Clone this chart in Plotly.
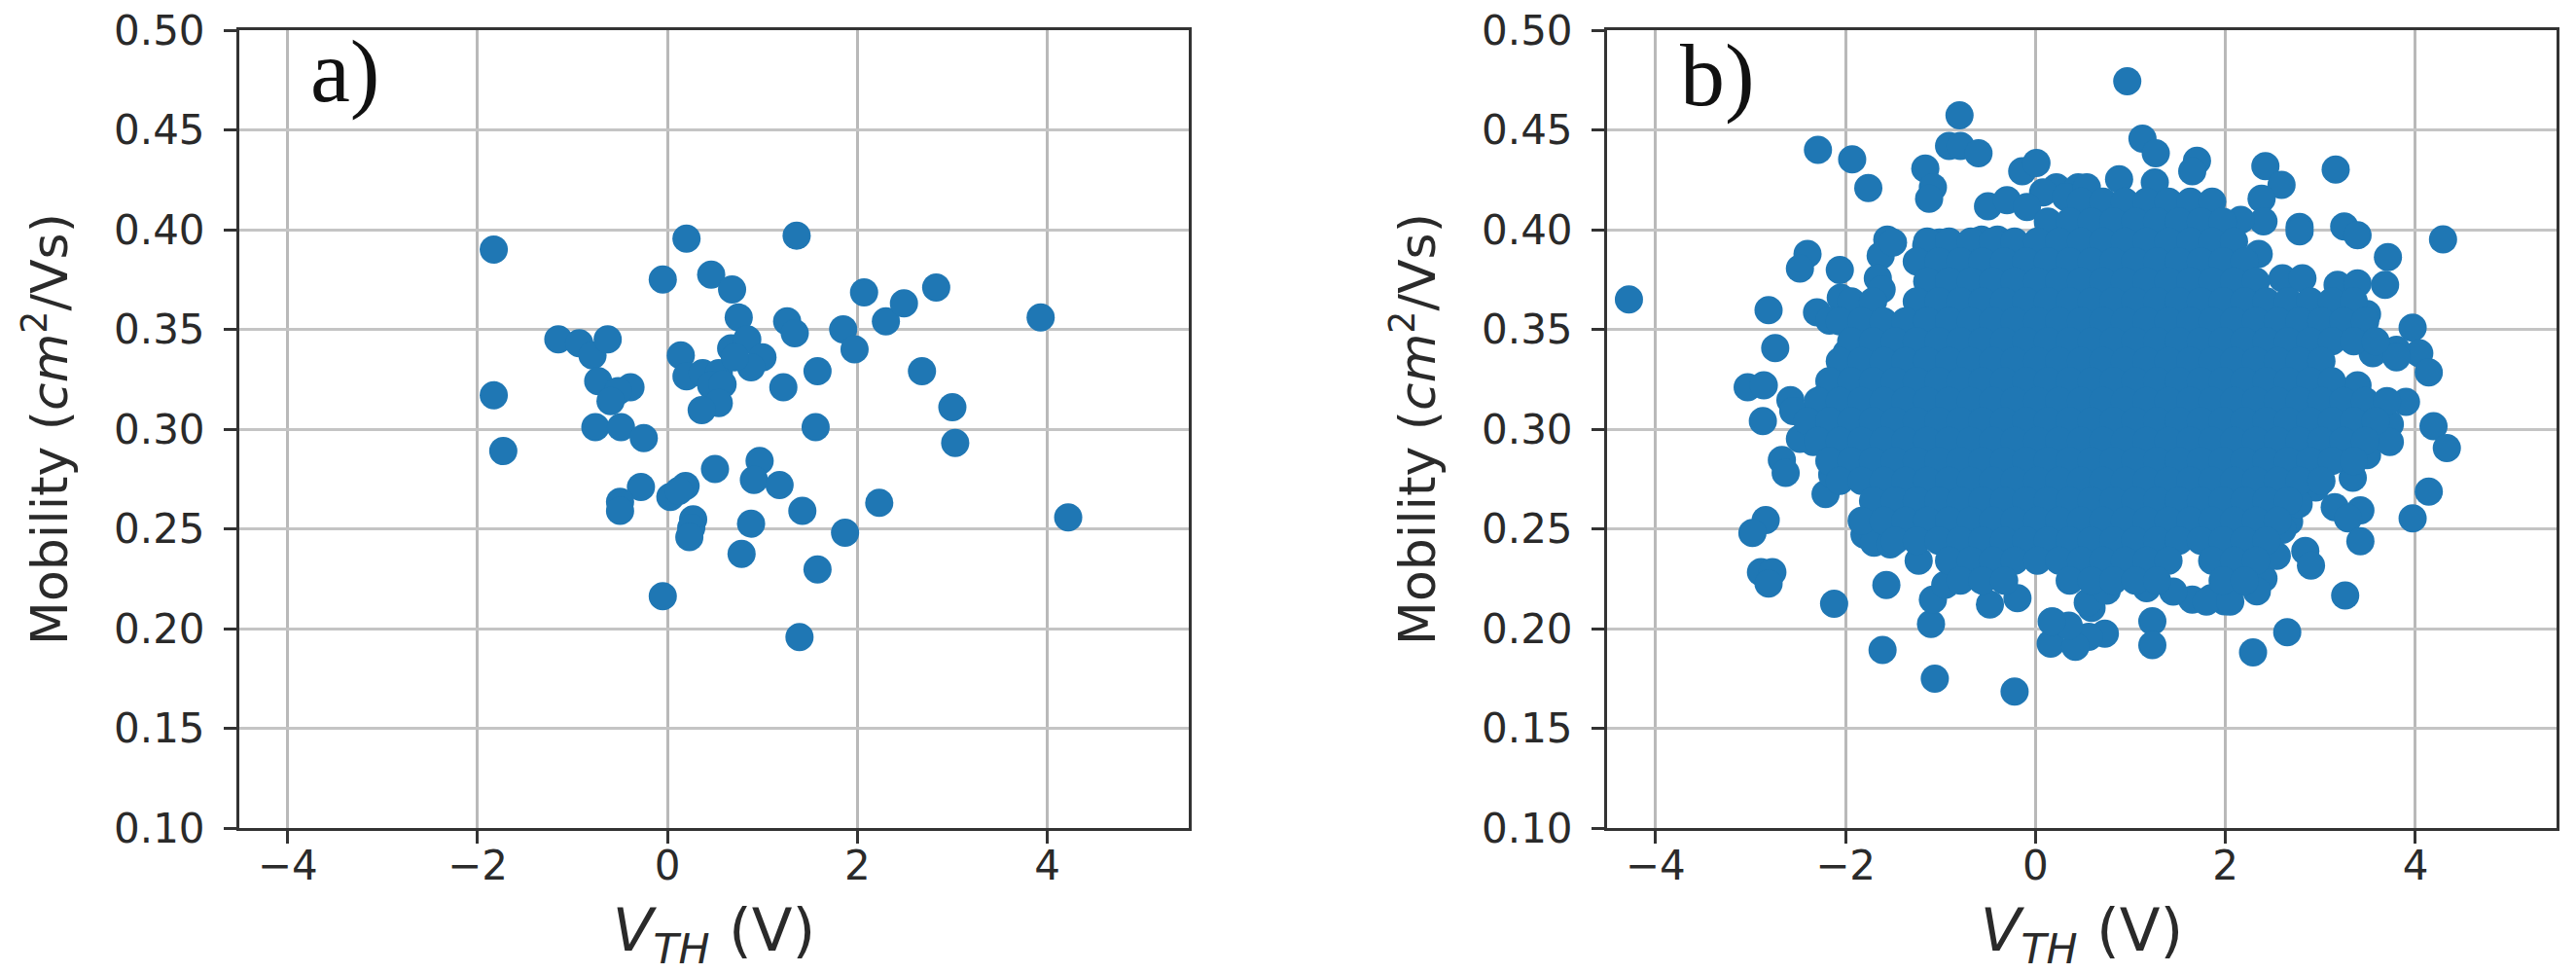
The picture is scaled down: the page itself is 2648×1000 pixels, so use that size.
import plotly.graph_objects as go

# ---------- panel a) ----------
a_vth = [-1.83, -1.83, -1.73, -1.15, -0.93, -0.79, -0.63, -0.73, -0.39, -0.52, -0.60, -0.76, -0.49, -0.25,
         -0.28, -0.50, -0.50, -0.05, 0.20, 0.46, 0.68, 1.36, 0.75, 0.14, 0.20, 0.37, 0.54, 0.46, 0.58, 0.54,
         0.36, 0.67, 0.84, 1.00, 0.88, 0.71, 1.26, 1.34, 1.22, 1.58, 1.85, 1.97, 2.07, 2.30, 2.49, 2.83,
         2.68, 3.00, 3.03, 3.93, 4.22, 1.56, 0.50, 0.97, 0.91, 1.18, 0.03, 0.19, 0.27, 0.25, 0.23, 0.88,
         1.42, 1.87, 2.23, 0.78, 1.58, -0.05, 1.39, 0.12]
a_mobility = [0.390, 0.317, 0.289, 0.345, 0.343, 0.337, 0.345, 0.324, 0.321, 0.319, 0.314, 0.301, 0.301, 0.2955,
              0.271, 0.2635, 0.259, 0.375, 0.3955, 0.3775, 0.370, 0.397, 0.356, 0.337, 0.3265, 0.328, 0.328, 0.322, 0.3225, 0.313,
              0.3095, 0.3405, 0.345, 0.336, 0.331, 0.336, 0.354, 0.348, 0.321, 0.329, 0.350, 0.340, 0.3685, 0.354, 0.363, 0.371,
              0.329, 0.311, 0.293, 0.356, 0.2557, 0.301, 0.280, 0.284, 0.2745, 0.272, 0.266, 0.2715, 0.2548, 0.2505, 0.2458, 0.2526,
              0.259, 0.248, 0.263, 0.2374, 0.2296, 0.2162, 0.1957, 0.269]

# ---------- panel b): outlying points read one by one ----------
b_edge_vth = [-2.29, -1.93, -1.76, -0.80, -0.91, -0.79, -0.60, -1.16, -1.08, -1.12, -0.14, 0.01, -0.50, -0.30, 0.22, 0.45,
              0.08, 0.32, -0.09, -2.40, -2.48, -2.06, -2.81, -2.74, -3.03, -2.86, -2.87, -4.28, -2.58, -2.55, -1.56, -1.63,
              -1.66, -2.05, -2.30, -2.17, -1.99, -2.24, -2.34, -1.15, -1.01, -0.57, -0.40, -1.50, -1.62,
              0.966, 1.126, 1.266, 1.70, 1.65, 0.88, 1.256, 0.54, 2.42, 2.59, 2.38, 2.40, 2.16, 2.78, 2.78, 3.16, 3.25, 3.39,
              4.29, 3.71, 3.68, 2.35, 2.60, 2.81, 3.18, 3.39, 3.97, 4.04, 4.14, 3.80, 3.90, 3.39, 4.19, 0.66, 3.49, 3.73, 3.22,
              3.55, 3.80,
              4.33, 4.14, 3.97, 3.15, 3.42, 3.29, 3.42, 2.84, 2.90, 3.26, 2.65, 2.29, 1.23, 1.23, 0.73, 0.56, 3.34, 2.67, 2.60,
              2.40, 2.33, 1.99, 1.65, 1.17, 0.59, 2.54, 3.49, 3.73, 3.29, 2.95, 2.77, 2.19, 1.85, 1.45, 1.80, 2.05,
              -2.67, -2.63, -2.84, -2.98, -2.89, -2.77, -2.81, -2.12, -1.57, -1.61, -1.06, -0.22, -1.10, -1.08, -1.23, -1.80,
              -1.70, -1.53, -2.21, -2.34, -2.48, -2.14, -0.95, -0.48, -0.19, 0.16, 0.42, 0.18, 0.35, 0.17, -0.77, 0.55, 0.75]
b_edge_mobility = [0.440, 0.4353, 0.4209, 0.4573, 0.442, 0.442, 0.4383, 0.4306, 0.4212, 0.4155, 0.4293, 0.4334, 0.4117, 0.4147, 0.4212, 0.4212,
                   0.4187, 0.4163, 0.4114, 0.3878, 0.3805, 0.3797, 0.3596, 0.3406, 0.321, 0.322, 0.304, 0.365, 0.3145, 0.309, 0.395, 0.387,
                   0.3756, 0.3658, 0.3585, 0.3544, 0.338, 0.3153, 0.3056, 0.3919, 0.3935, 0.395, 0.395, 0.3935, 0.370,
                   0.4744, 0.4456, 0.4383, 0.4345, 0.4293, 0.4253, 0.4236, 0.4212, 0.4318, 0.4225, 0.4155, 0.4041, 0.4049, 0.4013, 0.3992, 0.4301, 0.4016, 0.3972,
                   0.3951, 0.3862, 0.3723, 0.3878, 0.3756, 0.3756, 0.3723, 0.3731, 0.3508, 0.3381, 0.3284, 0.3398, 0.3137, 0.3219, 0.3015, 0.4082, 0.3577, 0.3025, 0.3105,
                   0.338, 0.336,
                   0.2905, 0.2686, 0.2552, 0.2609, 0.2593, 0.2552, 0.2438, 0.2389, 0.2316, 0.2166, 0.1982, 0.188, 0.2036, 0.1917, 0.1974, 0.1958, 0.2756, 0.2536, 0.2495,
                   0.2251, 0.2186, 0.2137, 0.2145, 0.2202, 0.2104, 0.2365, 0.287, 0.2935, 0.2853, 0.2707, 0.2625, 0.2235, 0.2153, 0.2185, 0.2135, 0.2135,
                   0.2845, 0.278, 0.2544, 0.2479, 0.2283, 0.2283, 0.2226, 0.2125, 0.2218, 0.1893, 0.1749, 0.1684, 0.2023, 0.2145, 0.234, 0.2471,
                   0.243, 0.2422, 0.2674, 0.2935, 0.2951, 0.2772, 0.222, 0.2121, 0.2153, 0.1925, 0.1909, 0.2035, 0.2015, 0.2035, 0.2316, 0.213, 0.219]

# ---------- panel b): the solid mass, estimated row by row ----------
b_core_rows = [
    (0.414, [0.48, 0.71, 0.94, 1.17, 1.40, 1.63, 1.86]),
    (0.404, [0.13, 0.36, 0.59, 0.82, 1.05, 1.28, 1.51, 1.74, 1.97]),
    (0.394, [-1.14, -0.91, -0.68, -0.45, -0.22, 0.02, 0.25, 0.48, 0.71, 0.94, 1.17, 1.40, 1.63, 1.86, 2.09]),
    (0.384, [-1.25, -1.02, -0.79, -0.56, -0.33, -0.10, 0.13, 0.36, 0.59, 0.82, 1.05, 1.28, 1.51, 1.74, 1.97, 2.20]),
    (0.374, [-1.14, -0.91, -0.68, -0.45, -0.22, 0.02, 0.25, 0.48, 0.71, 0.94, 1.17, 1.40, 1.63, 1.86, 2.09, 2.32]),
    (0.364, [-1.94, -1.71, -1.25, -1.02, -0.79, -0.56, -0.33, -0.10, 0.13, 0.36, 0.59, 0.82, 1.05, 1.28, 1.51, 1.74, 1.97, 2.20, 2.43, 2.66, 2.89, 3.12, 3.35]),
    (0.354, [-2.06, -1.83, -1.60, -1.37, -1.14, -0.91, -0.68, -0.45, -0.22, 0.02, 0.25, 0.48, 0.71, 0.94, 1.17, 1.40, 1.63, 1.86, 2.09, 2.32, 2.55, 2.78, 3.01, 3.24, 3.47]),
    (0.344, [-1.94, -1.71, -1.48, -1.25, -1.02, -0.79, -0.56, -0.33, -0.10, 0.13, 0.36, 0.59, 0.82, 1.05, 1.28, 1.51, 1.74, 1.97, 2.20, 2.43, 2.66, 2.89, 3.12, 3.35, 3.58]),
    (0.334, [-2.06, -1.83, -1.60, -1.37, -1.14, -0.91, -0.68, -0.45, -0.22, 0.02, 0.25, 0.48, 0.71, 0.94, 1.17, 1.40, 1.63, 1.86, 2.09, 2.32, 2.55, 2.78, 3.01]),
    (0.324, [-2.17, -1.94, -1.71, -1.48, -1.25, -1.02, -0.79, -0.56, -0.33, -0.10, 0.13, 0.36, 0.59, 0.82, 1.05, 1.28, 1.51, 1.74, 1.97, 2.20, 2.43, 2.66, 2.89, 3.12]),
    (0.314, [-2.29, -2.06, -1.83, -1.60, -1.37, -1.14, -0.91, -0.68, -0.45, -0.22, 0.02, 0.25, 0.48, 0.71, 0.94, 1.17, 1.40, 1.63, 1.86, 2.09, 2.32, 2.55, 2.78, 3.01, 3.24, 3.47, 3.70]),
    (0.304, [-2.40, -2.17, -1.94, -1.71, -1.48, -1.25, -1.02, -0.79, -0.56, -0.33, -0.10, 0.13, 0.36, 0.59, 0.82, 1.05, 1.28, 1.51, 1.74, 1.97, 2.20, 2.43, 2.66, 2.89, 3.12, 3.35, 3.58]),
    (0.294, [-2.29, -2.06, -1.83, -1.60, -1.37, -1.14, -0.91, -0.68, -0.45, -0.22, 0.02, 0.25, 0.48, 0.71, 0.94, 1.17, 1.40, 1.63, 1.86, 2.09, 2.32, 2.55, 2.78, 3.01, 3.24, 3.47]),
    (0.284, [-2.17, -1.94, -1.71, -1.48, -1.25, -1.02, -0.79, -0.56, -0.33, -0.10, 0.13, 0.36, 0.59, 0.82, 1.05, 1.28, 1.51, 1.74, 1.97, 2.20, 2.43, 2.66, 2.89, 3.12, 3.35]),
    (0.274, [-2.06, -1.83, -1.60, -1.37, -1.14, -0.91, -0.68, -0.45, -0.22, 0.02, 0.25, 0.48, 0.71, 0.94, 1.17, 1.40, 1.63, 1.86, 2.09, 2.32, 2.55, 2.78, 3.01]),
    (0.264, [-1.71, -1.48, -1.25, -1.02, -0.79, -0.56, -0.33, -0.10, 0.13, 0.36, 0.59, 0.82, 1.05, 1.28, 1.51, 1.74, 1.97, 2.20, 2.43, 2.66]),
    (0.254, [-1.83, -1.60, -1.37, -1.14, -0.91, -0.68, -0.45, -0.22, 0.02, 0.25, 0.48, 0.71, 0.94, 1.17, 1.40, 1.63, 1.86, 2.09, 2.32, 2.55]),
    (0.244, [-1.48, -1.25, -1.02, -0.79, -0.56, -0.33, -0.10, 0.13, 0.36, 0.59, 0.82, 1.05, 1.28, 1.51, 1.74, 1.97, 2.20, 2.43]),
    (0.234, [-0.91, -0.68, -0.45, -0.22, 0.02, 0.25, 0.48, 0.71, 0.94, 1.17, 1.40, 1.86, 2.09, 2.32]),
    (0.224, [-0.79, -0.56, -0.33, 0.36, 0.59, 0.82, 1.05, 1.28, 1.97, 2.20]),
]
b_vth = b_edge_vth + [x for _, row in b_core_rows for x in row]
b_mobility = b_edge_mobility + [y for y, row in b_core_rows for _ in row]

x_ticks = [-4, -2, 0, 2, 4]
y_ticks = [0.10, 0.15, 0.20, 0.25, 0.30, 0.35, 0.40, 0.45, 0.50]
panel_labels = ["a)", "b)"]
x_title = "<i>V<sub>TH</sub></i> (V)"
y_title = "Mobility (<i>cm</i><sup>2</sup>/Vs)"

W, H = 2648, 1000
BLUE = "#1f77b4"
INK = "#2a2a2a"
FS = 42

fig = go.Figure()
fig.add_trace(go.Scatter(x=a_vth, y=a_mobility, mode="markers", xaxis="x", yaxis="y",
                         marker=dict(color=BLUE, size=29, line=dict(width=0)), showlegend=False))
fig.add_trace(go.Scatter(x=b_vth, y=b_mobility, mode="markers", xaxis="x2", yaxis="y2",
                         marker=dict(color=BLUE, size=29, line=dict(width=0)), showlegend=False))

def xax(left, right, rng, anchor):
    return dict(domain=[left / W, right / W], range=rng, anchor=anchor, tickmode="array", tickvals=x_ticks,
                showgrid=True, gridcolor="#b9b9b9", gridwidth=3, zeroline=False, showline=True, mirror=True,
                linecolor="#333333", linewidth=3, ticks="outside", ticklen=13, tickwidth=3, tickcolor="#333333",
                ticklabelstandoff=-13, tickfont=dict(family="DejaVu Sans", size=FS, color=INK),
                title=dict(text=x_title, font=dict(family="DejaVu Sans", size=61, color=INK), standoff=25))

def yax(rng, anchor):
    return dict(domain=[1 - 851 / H, 1 - 31 / H], range=rng, anchor=anchor, tickmode="array", tickvals=y_ticks,
                tickformat=".2f", showgrid=True, gridcolor="#c4c4c4", gridwidth=3, zeroline=False, showline=True,
                mirror=True, linecolor="#333333", linewidth=3, ticks="outside", ticklen=13, tickwidth=3,
                tickcolor="#333333", ticklabelstandoff=11, tickfont=dict(family="DejaVu Sans", size=FS, color=INK),
                title=dict(text=y_title, font=dict(family="DejaVu Sans", size=52, color=INK), standoff=31))

fig.update_layout(
    width=W, height=H, margin=dict(l=0, r=0, t=0, b=0, autoexpand=False), paper_bgcolor="white", plot_bgcolor="white",
    xaxis=xax(246, 1222, [-4.51, 5.49], "y"), yaxis=yax([0.1, 0.5], "x"),
    xaxis2=xax(1652, 2628, [-4.51, 5.485], "y2"), yaxis2=yax([0.1, 0.5], "x2"),
    annotations=[
        dict(text=panel_labels[0], x=-3.4, y=0.4535, xref="x", yref="y", showarrow=False, yanchor="bottom",
             font=dict(family="Liberation Serif", size=92, color="#111111")),
        dict(text=panel_labels[1], x=-3.35, y=0.4515, xref="x2", yref="y2", showarrow=False, yanchor="bottom",
             font=dict(family="Liberation Serif", size=92, color="#111111")),
    ],
)
fig.write_html("out.html", config=dict(displayModeBar=False), post_script="document.body.style.margin='0';")
